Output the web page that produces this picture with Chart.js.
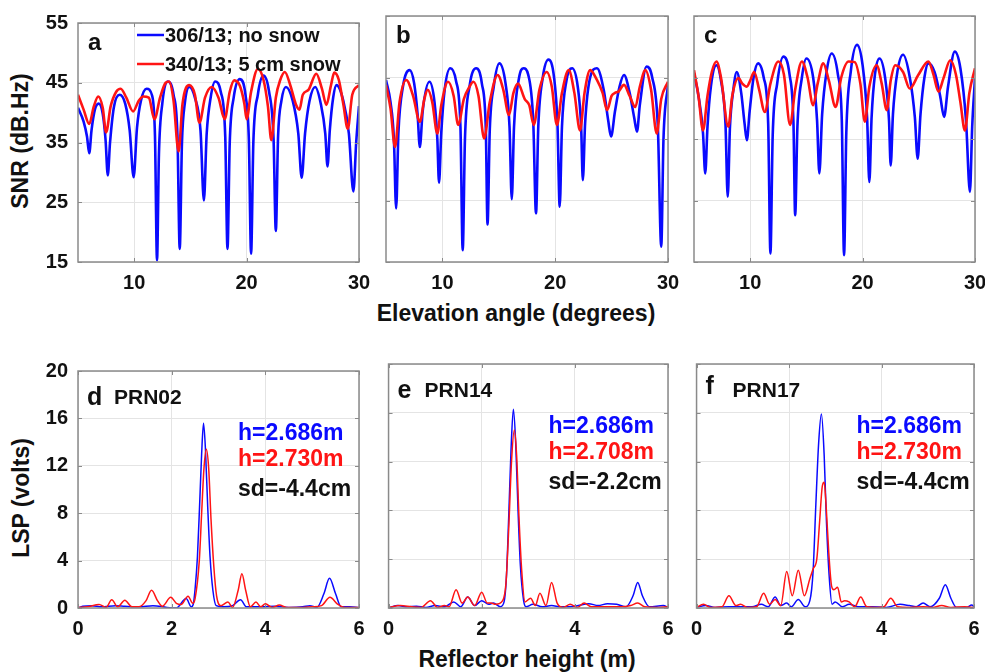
<!DOCTYPE html>
<html>
<head>
<meta charset="utf-8">
<script src="https://cdn.jsdelivr.net/npm/chart.js@4.4.1/dist/chart.umd.min.js"></script>
<style>
    html, body { margin: 0; padding: 0; background: #fff; width: 985px; height: 672px; overflow: hidden; }
    .panel { position: absolute; }
    .axis-title {
        position: absolute;
        font: bold 23px "Liberation Sans", Arial, sans-serif;
        color: #111;
        white-space: nowrap;
        transform: translate(-50%, -50%);
    }
    .axis-title.rot { transform: translate(-50%, -50%) rotate(-90deg); }
</style>
</head>
<body>
<div class="axis-title rot" style="left:20px; top:141px;">SNR (dB.Hz)</div>
<div class="axis-title rot" style="left:21px; top:498px;">LSP (volts)</div>
<div class="axis-title" style="left:516px; top:313px;">Elevation angle (degrees)</div>
<div class="axis-title" style="left:527px; top:659px;">Reflector height (m)</div>

<script>
(function() {
    'use strict';

    // --- tick values ---
    const snrXTicks = [10, 20, 30];
    const snrYTicks = [15, 25, 35, 45, 55];
    const lspXTicks = [0, 2, 4, 6];
    const lspYTicks = [0, 4, 8, 12, 16, 20];

    // --- labels ---
    const legendLabels = ['306/13; no snow', '340/13; 5 cm snow'];
    const panelLetters = ['a', 'b', 'c', 'd', 'e', 'f'];
    const prnLabels = ['PRN02', 'PRN14', 'PRN17'];
    const heightBlue = ['h=2.686m', 'h=2.686m', 'h=2.686m'];
    const heightRed = ['h=2.730m', 'h=2.708m', 'h=2.730m'];
    const snowDepth = ['sd=-4.4cm', 'sd=-2.2cm', 'sd=-4.4cm'];

    // --- SNR (elevation angle, dB.Hz), day 306/13 no snow (blue) and 340/13 snow (red) ---
    const snrA_blue = [[5,40.8],[5.5,38.5],[5.8,36],[6,33.2],[6.2,37],[6.5,40.5],[6.85,41.5],[7.2,39.8],[7.45,35.5],[7.65,29.5],[7.85,35],[8.2,41],[8.7,43],[9.2,41.5],[9.6,37],[9.95,29.2],[10.25,37.5],[10.6,42],[11.1,44],[11.6,42.8],[11.85,36],[12.03,15.3],[12.2,33],[12.5,41.5],[13,45.2],[13.5,43],[13.85,36],[14.05,17.2],[14.25,35],[14.5,41.5],[14.9,44.3],[15.4,42.5],[15.9,37],[16.2,25.3],[16.45,36.5],[16.8,42.5],[17.2,45.2],[17.7,43.5],[18.1,36],[18.3,17.2],[18.5,35],[18.85,42.5],[19.4,45.6],[19.9,43],[20.2,35.5],[20.4,16.4],[20.6,35],[21,43],[21.5,46.2],[22,43.5],[22.4,35.5],[22.6,20.2],[22.8,36],[23.1,42],[23.5,44.3],[24.1,42],[24.6,36.5],[24.9,29.1],[25.2,36.5],[25.6,42],[26.1,44.3],[26.6,41.5],[27,36.5],[27.2,31],[27.4,37],[27.7,42.5],[28,44.6],[28.6,42],[29.1,36.5],[29.5,26.8],[29.75,35],[30,41.1]];
    const snrA_red = [[5,43],[5.5,40.5],[6,38.1],[6.4,41],[6.8,42.7],[7.2,40.8],[7.5,36.7],[7.9,41],[8.4,43.5],[8.8,44],[9.3,42.5],[9.9,40.2],[10.4,42],[10.8,42.7],[11.3,42.5],[11.8,38.9],[12.3,42.5],[12.8,45],[13.1,45.2],[13.5,42],[13.95,33.5],[14.3,41.5],[14.9,44.6],[15.4,43],[15.8,38.3],[16.3,42.5],[16.9,44.3],[17.5,42.5],[18.05,38.9],[18.5,43.5],[18.9,45.4],[19.4,44.5],[19.8,41.5],[20,38.9],[20.4,43.5],[21,47.3],[21.5,45.5],[21.9,41],[22.2,35.4],[22.6,42.5],[23,45.5],[23.4,46.8],[23.9,44.5],[24.4,41.3],[24.7,40.5],[25,43],[25.5,43.8],[26.2,46.5],[26.7,44],[27.1,41.3],[27.5,44.5],[27.8,46.7],[28.2,45.5],[28.6,41.5],[29,37.3],[29.4,43],[30,44.6]];

    const snrB_blue = [[5,44.6],[5.4,41],[5.7,35],[5.9,23.7],[6.1,36],[6.5,43.5],[7.1,46.2],[7.5,44],[7.8,39],[8,33.7],[8.25,39.5],[8.85,44.3],[9.3,41],[9.55,35],[9.7,27.9],[9.9,36],[10.2,43],[10.7,46.5],[11.2,44.5],[11.6,37],[11.8,16.9],[12,35],[12.4,43.5],[13,46.5],[13.5,44],[13.85,36.5],[14,21.1],[14.2,36.5],[14.55,43.5],[15.05,47.3],[15.6,44],[15.95,37],[16.15,25.2],[16.35,37],[16.8,45],[17.2,46.5],[17.6,45.5],[18.05,38],[18.3,22.9],[18.5,37],[18.9,45],[19.4,47.9],[19.9,45],[20.2,37.5],[20.4,24],[20.6,37],[21,44.5],[21.5,46.5],[22,43.5],[22.3,37],[22.45,28.3],[22.65,37.5],[23.1,45],[23.7,46.5],[24.3,43],[24.7,38],[24.95,35.4],[25.3,39.5],[25.7,43.5],[26.1,45.4],[26.6,42.5],[27,38.5],[27.25,36.2],[27.5,40.5],[28.1,46.8],[28.6,45],[29.1,37],[29.4,17.5],[29.6,35],[30,43.8]];
    const snrB_red = [[5,43.8],[5.4,40],[5.8,33.7],[6.2,41],[6.8,44.6],[7.4,42],[8,37.8],[8.4,41.5],[8.7,43],[9.1,41],[9.55,35.9],[9.9,40.5],[10.5,44.3],[11,42],[11.4,37.3],[11.9,41.5],[12.4,43.5],[12.75,44.3],[13.2,42],[13.7,35.1],[14.2,41],[14.9,45.4],[15.4,43],[15.9,38.9],[16.3,42.5],[16.7,44],[17.3,41.5],[17.7,40.5],[18.1,37.3],[18.6,43],[19.25,45.9],[19.7,43.5],[20.15,37.3],[20.6,42.5],[21.2,46.2],[21.7,42.5],[22.2,36.4],[22.6,42.5],[23.1,46.2],[23.7,44.6],[24.2,42.5],[24.6,39.7],[25,42],[25.3,42.5],[25.6,42.7],[26.1,43.8],[26.6,42],[27.1,40.2],[27.5,43.5],[28,46.2],[28.5,43],[29,35.9],[29.4,41.5],[30,44.3]];

    const snrC_blue = [[5,45.7],[5.4,42],[5.8,36],[6,29.4],[6.2,37],[6.5,43.5],[7,47],[7.4,44.5],[7.8,37.5],[8,25.6],[8.2,37],[8.5,43],[8.8,45.9],[9.2,42.5],[9.5,37.5],[9.7,34.8],[9.95,39.5],[10.3,45],[10.7,47.3],[11.2,45],[11.6,37.5],[11.8,16.4],[12,35.5],[12.4,44],[12.95,48.4],[13.5,45.5],[13.85,37.5],[14,22.6],[14.2,37],[14.6,45],[15,48.1],[15.6,45],[15.95,38],[16.15,29.4],[16.4,39],[16.8,46],[17.25,48.9],[17.8,45.5],[18.15,38],[18.35,16.1],[18.55,36],[18.95,46],[19.5,50.3],[20,47],[20.4,38.5],[20.6,28],[20.8,38.5],[21.1,45.5],[21.5,48.1],[22,45],[22.35,38],[22.5,30.7],[22.7,39],[23.1,46],[23.6,48.7],[24.2,45],[24.65,38.5],[24.9,31.8],[25.15,39],[25.5,45],[25.85,47.3],[26.4,45.9],[26.9,42],[27.25,38.6],[27.6,43.5],[28.2,49.2],[28.7,46.5],[29.2,38],[29.55,26.4],[29.75,37],[30,44.9]];
    const snrC_red = [[5,46.2],[5.4,42],[5.8,36.4],[6.2,42],[6.6,46],[7,47.6],[7.4,45],[8.05,37],[8.4,42],[8.95,44.9],[9.3,44],[9.7,43.5],[10,44.5],[10.35,45.9],[10.8,43],[11.3,39.4],[11.8,44],[12.5,47.6],[13,45.5],[13.55,37.3],[14,43],[14.6,47.6],[15.1,45],[15.6,40.5],[16,44],[16.5,47.3],[17,44.5],[17.6,40.2],[18.1,45],[18.75,47.6],[19.3,47.5],[19.8,44],[20.2,37.8],[20.6,43.5],[21.25,47],[21.7,44],[22.15,39.7],[22.5,44.5],[22.9,47],[23.6,45.9],[24.2,43.2],[24.95,45.4],[25.85,47.6],[26.3,45.5],[26.75,42.7],[27.2,44.9],[27.8,47.8],[28.3,45.5],[28.7,41],[29.1,36.4],[29.5,42.5],[30,46.5]];

    // --- Lomb-Scargle periodograms (reflector height m, volts) ---
    const lspD_blue = [[0,0],[0.1,0.15],[0.3,0.2],[0.5,0.1],[0.8,0.2],[1,0.15],[1.3,0.1],[1.6,0.2],[1.9,0.05],[2.1,0],[2.31,0.8],[2.42,0.1],[2.46,0.3],[2.5,1.6],[2.55,4.3],[2.6,9],[2.64,13],[2.68,15.6],[2.72,13.5],[2.77,8.5],[2.82,4.3],[2.88,1.5],[2.95,0.2],[3.1,0.1],[3.3,0.2],[3.47,0.7],[3.6,0.1],[3.9,0.1],[4.2,0.15],[4.5,0.05],[4.8,0.1],[4.95,0.2],[5.1,0.05],[5.25,1.2],[5.37,2.5],[5.5,1.2],[5.62,0.1],[5.8,0.1],[6,0.05]];
    const lspD_red = [[0,0.05],[0.2,0.1],[0.45,0.3],[0.6,0.05],[0.72,0.7],[0.85,0.1],[1,0.65],[1.15,0.1],[1.3,0.1],[1.45,0.6],[1.57,1.5],[1.7,0.6],[1.8,0.15],[1.98,0.9],[2.1,0.4],[2.2,0.3],[2.35,1],[2.45,0.4],[2.5,0.8],[2.59,4],[2.64,8],[2.69,11.8],[2.74,13.4],[2.79,11.8],[2.84,7.5],[2.9,3.5],[2.96,1],[3.05,0.2],[3.2,0.5],[3.3,0.05],[3.42,1.5],[3.5,2.9],[3.58,1.5],[3.68,0.1],[3.8,0.5],[3.9,0.1],[4,0.35],[4.15,0.05],[4.3,0.25],[4.45,0.05],[4.8,0.05],[5,0.1],[5.2,0.2],[5.38,0.9],[5.55,0.3],[5.7,0.05],[6,0.05]];

    const lspE_blue = [[0,0],[0.2,0.2],[0.4,0.1],[0.6,0.15],[0.8,0.05],[1,0.2],[1.2,0.1],[1.4,0.5],[1.55,0.1],[1.7,0.9],[1.85,0.2],[2,0.6],[2.15,0.3],[2.25,0.4],[2.4,0.1],[2.48,0.5],[2.53,2.5],[2.58,7.5],[2.63,13],[2.68,16.3],[2.73,13.5],[2.78,8],[2.83,3.5],[2.9,0.6],[2.95,0.1],[3.1,0.3],[3.3,0.1],[3.5,0.2],[3.7,0.1],[4,0.15],[4.3,0.35],[4.5,0.2],[4.7,0.35],[4.9,0.3],[5.1,0.1],[5.25,1],[5.35,2.1],[5.45,1],[5.6,0.1],[5.9,0.2],[6,0.05]];
    const lspE_red = [[0,0.05],[0.25,0.2],[0.5,0.1],[0.7,0.05],[0.9,0.6],[1.05,0.05],[1.2,0.2],[1.3,0.1],[1.45,1.5],[1.58,0.4],[1.7,0.9],[1.85,0.2],[2,1.3],[2.12,0.4],[2.2,0.4],[2.3,0.3],[2.45,0.6],[2.52,2],[2.58,6.5],[2.64,12],[2.7,14.6],[2.75,12.5],[2.8,7.5],[2.86,3],[2.93,0.5],[3.05,0.8],[3.15,0.2],[3.25,1.2],[3.38,0.2],[3.5,2.1],[3.62,0.4],[3.75,0.05],[3.9,0.3],[4.05,0.05],[4.2,0.4],[4.35,0.1],[4.6,0.1],[5,0.1],[5.2,0.2],[5.35,0.4],[5.5,0.1],[5.8,0.05],[6,0.1]];

    const lspF_blue = [[0,0.05],[0.2,0.2],[0.4,0.05],[0.7,0.1],[1,0.1],[1.2,0.1],[1.4,0.3],[1.55,0.1],[1.7,0.9],[1.82,0.2],[1.95,0.4],[2.05,0.1],[2.2,0.7],[2.35,0.1],[2.45,0.6],[2.52,3],[2.58,8.5],[2.64,13.5],[2.7,15.9],[2.76,12.5],[2.81,7],[2.87,2.5],[2.93,0.3],[3,0.5],[3.15,0.1],[3.3,0.3],[3.5,0.1],[3.8,0.1],[4.1,0.05],[4.4,0.3],[4.6,0.2],[4.75,0.1],[4.9,0.4],[5.05,0.1],[5.25,0.8],[5.38,1.9],[5.5,0.8],[5.62,0.05],[5.85,0.05],[5.95,0.25],[6,0.1]];
    const lspF_red = [[0,0.05],[0.15,0.3],[0.3,0.05],[0.55,0.1],[0.7,1],[0.85,0.2],[0.95,0.3],[1.1,0.05],[1.3,0.1],[1.45,1.2],[1.58,0.3],[1.7,0.7],[1.82,0.2],[1.95,3],[2.07,1],[2.2,3.1],[2.33,1],[2.45,2.4],[2.52,3.2],[2.6,4],[2.66,7],[2.72,10],[2.76,10.3],[2.8,8.5],[2.86,4.5],[2.92,1.8],[2.97,1.5],[3.05,1.7],[3.13,0.5],[3.2,0.6],[3.3,0.5],[3.42,0.1],[3.55,0.9],[3.68,0.1],[3.9,0.05],[4.05,0.1],[4.2,0.8],[4.35,0.1],[4.6,0.05],[4.9,0.1],[5.1,0.05],[5.3,0.2],[5.5,0.05],[5.8,0.1],[6,0.05]];

    const FONT = '"Liberation Sans", Arial, sans-serif';
    const BLUE = '#0a0aff';
    const RED = '#ff1414';

    // plot boxes (page pixels)
    const boxes = [
        { x0: 78,  y0: 16,  x1: 359, y1: 262 },
        { x0: 386, y0: 16,  x1: 668, y1: 262 },
        { x0: 694, y0: 16,  x1: 975, y1: 262 },
        { x0: 78,  y0: 364, x1: 359, y1: 608 },
        { x0: 386, y0: 364, x1: 668, y1: 608 },
        { x0: 694, y0: 364, x1: 974, y1: 608 }
    ];

    function decoPlugin(idx) {
        return {
            id: 'deco' + idx,
            afterDatasetsDraw(chart) {
                const ctx = chart.ctx;
                const a = chart.chartArea;
                const xs = chart.scales.x, ys = chart.scales.y;
                ctx.save();
                // inner tick marks
                ctx.strokeStyle = '#8a8a8a';
                ctx.lineWidth = 1;
                ctx.beginPath();
                xs.ticks.forEach(t => {
                    const px = Math.round(xs.getPixelForValue(t.value)) + 0.5;
                    ctx.moveTo(px, a.bottom); ctx.lineTo(px, a.bottom - 4);
                    ctx.moveTo(px, a.top); ctx.lineTo(px, a.top + 4);
                });
                ys.ticks.forEach(t => {
                    const py = Math.round(ys.getPixelForValue(t.value)) + 0.5;
                    ctx.moveTo(a.left, py); ctx.lineTo(a.left + 4, py);
                    ctx.moveTo(a.right, py); ctx.lineTo(a.right - 4, py);
                });
                ctx.stroke();
                // box
                ctx.lineWidth = 1.5;
                ctx.strokeRect(a.left, a.top, a.right - a.left, a.bottom - a.top);

                // panel letter
                ctx.fillStyle = '#111';
                ctx.textAlign = 'left';
                ctx.textBaseline = 'alphabetic';
                if (idx < 3) {
                    ctx.font = 'bold 24px ' + FONT;
                    ctx.fillText(panelLetters[idx], a.left + 10, a.top + 27);
                } else {
                    const k = idx - 3;
                    ctx.font = 'bold 25px ' + FONT;
                    ctx.fillText(panelLetters[idx], a.left + 9, a.top + (k === 2 ? 30 : 34));
                    ctx.font = 'bold 21px ' + FONT;
                    ctx.fillText(prnLabels[k], a.left + 36, a.top + 33);
                    ctx.font = 'bold 23px ' + FONT;
                    ctx.fillStyle = BLUE;
                    ctx.fillText(heightBlue[k], a.left + 160, a.top + 69);
                    ctx.fillStyle = RED;
                    ctx.fillText(heightRed[k], a.left + 160, a.top + 95);
                    ctx.fillStyle = '#111';
                    ctx.fillText(snowDepth[k], a.left + 160, a.top + 125);
                }

                // legend (panel a only)
                if (idx === 0) {
                    const items = [
                        { label: legendLabels[0], color: BLUE, y: 12 },
                        { label: legendLabels[1], color: RED, y: 41 }
                    ];
                    ctx.font = 'bold 20px ' + FONT;
                    items.forEach(it => {
                        ctx.strokeStyle = it.color;
                        ctx.lineWidth = 2.5;
                        ctx.beginPath();
                        ctx.moveTo(a.left + 59, a.top + it.y);
                        ctx.lineTo(a.left + 86, a.top + it.y);
                        ctx.stroke();
                        ctx.fillStyle = '#111';
                        ctx.textBaseline = 'middle';
                        ctx.fillText(it.label, a.left + 87, a.top + it.y + 1);
                    });
                }
                ctx.restore();
            }
        };
    }

    function makePanel(idx, blue, red, isSnr) {
        const box = boxes[idx];
        const showY = idx === 0 || idx === 3;
        const padL = showY ? 10 : 12;
        const yw = showY ? 60 : 0;
        const padT = 15, padR = 25, padB = 5, xh = 34;
        const pw = box.x1 - box.x0, ph = box.y1 - box.y0;
        const w = padL + yw + pw + padR;
        const h = padT + ph + xh + padB;

        const wrap = document.createElement('div');
        wrap.className = 'panel';
        wrap.style.left = (box.x0 - padL - yw) + 'px';
        wrap.style.top = (box.y0 - padT) + 'px';
        wrap.style.width = w + 'px';
        wrap.style.height = h + 'px';
        const cv = document.createElement('canvas');
        cv.width = w; cv.height = h;
        cv.style.width = w + 'px'; cv.style.height = h + 'px';
        wrap.appendChild(cv);
        document.body.appendChild(wrap);

        const xTicks = isSnr ? snrXTicks : lspXTicks;
        const yTicks = isSnr ? snrYTicks : lspYTicks;
        const lw = isSnr ? 2.6 : 1.5;
        const line = { pointRadius: 0, borderWidth: lw, cubicInterpolationMode: 'monotone' };

        new Chart(cv, {
            type: 'line',
            data: {
                datasets: [
                    Object.assign({ label: legendLabels[1], data: red, borderColor: RED, order: 0 }, line),
                    Object.assign({ label: legendLabels[0], data: blue, borderColor: BLUE, order: 1 }, line)
                ]
            },
            options: {
                responsive: false,
                animation: false,
                layout: { padding: { left: padL, top: padT, right: padR, bottom: padB } },
                plugins: { legend: { display: false }, tooltip: { enabled: false } },
                scales: {
                    x: {
                        type: 'linear',
                        min: isSnr ? 5 : xTicks[0],
                        max: xTicks[xTicks.length - 1],
                        afterBuildTicks: s => { s.ticks = xTicks.map(v => ({ value: v })); },
                        afterFit: s => { s.height = xh; },
                        grid: { color: '#e4e4e4', drawTicks: false },
                        border: { display: false },
                        ticks: { color: '#111', padding: 9, maxRotation: 0, autoSkip: false,
                                 font: { family: FONT, size: 20, weight: 'bold' } }
                    },
                    y: {
                        min: yTicks[0],
                        max: yTicks[yTicks.length - 1],
                        afterBuildTicks: s => { s.ticks = yTicks.map(v => ({ value: v })); },
                        afterFit: s => { s.width = yw; },
                        grid: { color: '#e4e4e4', drawTicks: false },
                        border: { display: false },
                        ticks: { display: showY, color: '#111', padding: 10,
                                 font: { family: FONT, size: 20, weight: 'bold' } }
                    }
                }
            },
            plugins: [decoPlugin(idx)]
        });
    }

    makePanel(0, snrA_blue, snrA_red, true);
    makePanel(1, snrB_blue, snrB_red, true);
    makePanel(2, snrC_blue, snrC_red, true);
    makePanel(3, lspD_blue, lspD_red, false);
    makePanel(4, lspE_blue, lspE_red, false);
    makePanel(5, lspF_blue, lspF_red, false);
})();
</script>
</body>
</html>
